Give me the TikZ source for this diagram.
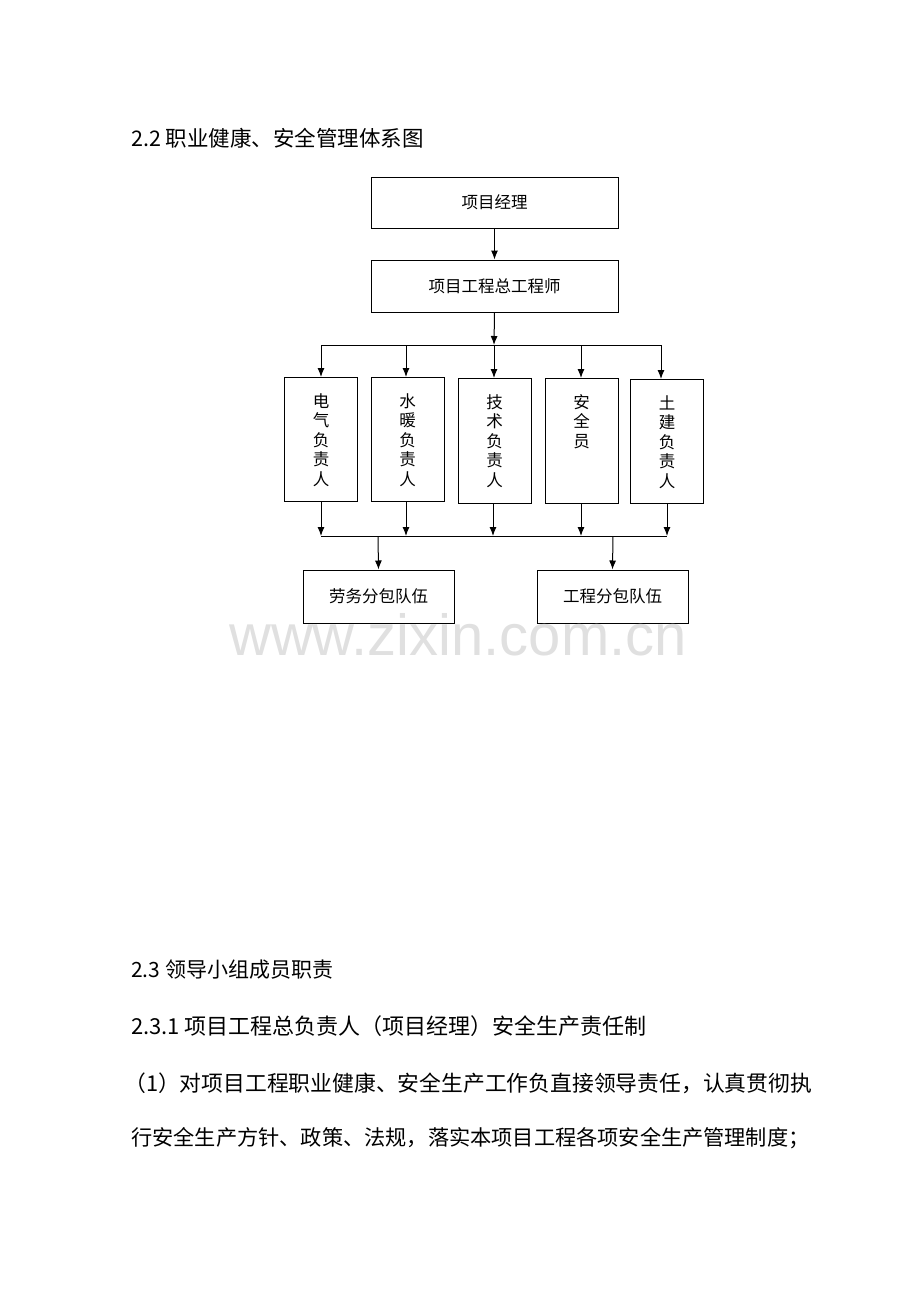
\documentclass[tikz,border=0pt]{standalone}
\usetikzlibrary{arrows.meta}
\usepackage{fontspec}
\setmainfont{Noto Sans CJK SC}
\newfontfamily\wm{Liberation Sans}
\begin{document}
\begin{tikzpicture}[x=1pt,y=-1pt,
 box/.style={draw,line width=1pt,inner sep=0pt},
 arr/.style={-{Latex[length=9pt,width=7pt]},line width=1pt},
 txt/.style={anchor=west,inner sep=0pt,font=\fontsize{21}{21}\selectfont},
 bt/.style={inner sep=0pt,font=\fontsize{16.5}{16.5}\selectfont}]
\useasboundingbox (0,0) rectangle (920,1302);
\node[txt,font=\fontsize{21.5}{21.5}\selectfont] (t1) at (131,138) {2.2 职业健康、安全管理体系图};
\node[box,minimum width=247pt,minimum height=51pt] (pm) at (494.5,202.5) {};
\node[bt] (pmt) at (pm) {项目经理};
\node[box,minimum width=247pt,minimum height=52pt] (ce) at (494.5,286) {};
\node[bt] (cet) at (ce) {项目工程总工程师};
\draw[arr] (pm.south) -- (ce.north);
\coordinate (h1) at (494,345);
\draw[arr] (ce.south) -- (h1);
\coordinate (hl) at (321,345); \coordinate (hr) at (661,345);
\draw[line width=1pt] (hl) -- (hr);
\foreach \n/\x/\yt/\yb/\ax/\bx/\tx in {
 a/321/377/501/321/321/{电\\气\\负\\责\\人},
 b/407.5/377/501/406/406/{水\\暖\\负\\责\\人},
 c/494.5/378/503/494/493/{技\\术\\负\\责\\人},
 d/581.5/378/503/581/581/{安\\全\\员},
 e/667/379/503/661/667/{土\\建\\负\\责\\人}}{
 \pgfmathsetmacro{\hh}{\yb-\yt}
 \node[box,minimum width=73pt,minimum height=\hh pt] (\n) at (\x,{(\yt+\yb)/2}) {};
 \node[bt,anchor=north,align=center,font=\fontsize{16.5}{19.5}\selectfont] (\n t) at (\x,\yt+16) {\tx};
 \coordinate (\n top) at (\ax,345);
 \draw[arr] (\n top) -- (\ax,\yt);
 \coordinate (\n bot) at (\bx,536);
 \draw[arr] (\bx,\yb) -- (\n bot);
}
\draw[line width=1pt] (abot) -- (ebot);
\node[box,minimum width=151pt,minimum height=53pt] (lw) at (378.5,596.5) {};
\node[bt] (lwt) at (lw) {劳务分包队伍};
\node[box,minimum width=151pt,minimum height=53pt] (gc) at (612.5,596.5) {};
\node[bt] (gct) at (gc) {工程分包队伍};
\coordinate (j1) at (378,536); \coordinate (j2) at (613,536);
\draw[arr] (j1) -- (lw.north);
\draw[arr] (j2) -- (gc.north);
\node[inner sep=0pt,text=black!12,font=\wm\fontsize{58}{58}\selectfont] (w) at (458,635) {www.zixin.com.cn};
\node[txt] (t2) at (131,970) {2.3 领导小组成员职责};
\node[txt,font=\fontsize{22}{22}\selectfont] (t3) at (131,1026) {2.3.1 项目工程总负责人（项目经理）安全生产责任制};
\node[txt,font=\fontsize{21.8}{21.8}\selectfont] (t4) at (124,1083) {（1）对项目工程职业健康、安全生产工作负直接领导责任，认真贯彻执};
\node[txt,font=\fontsize{21.2}{21.2}\selectfont] (t5) at (131,1138) {行安全生产方针、政策、法规，落实本项目工程各项安全生产管理制度；};
\end{tikzpicture}
\end{document}
